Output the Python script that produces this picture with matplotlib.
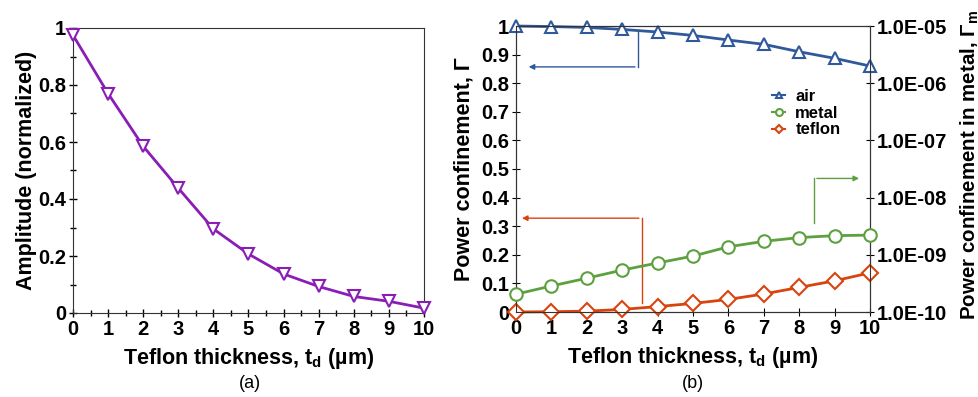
import math
import matplotlib
matplotlib.use("Agg")
import matplotlib.pyplot as plt
from matplotlib.ticker import FixedLocator, MultipleLocator, FuncFormatter
from matplotlib.lines import Line2D

plt.rcParams['font.family'] = ['Liberation Sans', 'DejaVu Sans']
plt.rcParams['font.weight'] = 'bold'
plt.rcParams['mathtext.fontset'] = 'custom'
plt.rcParams['mathtext.rm'] = 'Liberation Sans:bold'
plt.rcParams['mathtext.bf'] = 'Liberation Sans:bold'
plt.rcParams['mathtext.default'] = 'bf'

thickness = [0, 1, 2, 3, 4, 5, 6, 7, 8, 9, 10]
amplitude = [0.975, 0.77, 0.585, 0.438, 0.295, 0.207, 0.137, 0.093, 0.058, 0.041, 0.017]
air = [1.0, 0.998, 0.995, 0.988, 0.979, 0.967, 0.951, 0.936, 0.910, 0.887, 0.860]
teflon = [0.0, 0.001, 0.003, 0.009, 0.019, 0.030, 0.044, 0.063, 0.086, 0.109, 0.137]
metal = [2.05e-10, 2.85e-10, 3.9e-10, 5.4e-10, 7.2e-10, 9.5e-10, 1.38e-9, 1.72e-9, 2.0e-9, 2.16e-9, 2.21e-9]

purple = '#8a1db5'
blue = '#30599c'
green = '#5ca03f'
orange = '#d9440e'

fig = plt.figure(figsize=(9.79, 3.97), dpi=100)
W, H = 979, 397

def ax_rect(x0, x1, ytop, ybot):
    return [x0 / W, 1 - ybot / H, (x1 - x0) / W, (ybot - ytop) / H]

lab_fs = 15.5
tick_fs = 14.5

# Panel (a)
axa = fig.add_axes(ax_rect(73, 424, 28, 313))
axa.plot(thickness, amplitude, color=purple, lw=2, marker='v', ms=9,
         mfc='white', mec=purple, mew=1.5, clip_on=False, zorder=3)
axa.set_xlim(0, 10)
axa.set_ylim(0, 1)
axa.xaxis.set_major_locator(MultipleLocator(1))
axa.xaxis.set_minor_locator(MultipleLocator(0.5))
axa.yaxis.set_major_locator(MultipleLocator(0.2))
axa.yaxis.set_minor_locator(MultipleLocator(0.1))
axa.yaxis.set_major_formatter(FuncFormatter(lambda v, p: f"{v:g}"))
axa.tick_params(which='both', direction='inout', labelsize=tick_fs, width=1, pad=2)
axa.tick_params(which='major', length=6)
axa.tick_params(which='minor', length=4)
for s in axa.spines.values():
    s.set_color('#333333')
axa.set_xlabel(r"Teflon thickness, t$_\mathregular{d}$ (µm)", fontsize=lab_fs, fontweight='bold', labelpad=5)
axa.set_ylabel("Amplitude (normalized)", fontsize=lab_fs, fontweight='bold', labelpad=1)
fig.text(250 / W, 1 - 383 / H, "(a)", ha='center', va='center', fontsize=13, fontweight='normal')

# Panel (b)
axb = fig.add_axes(ax_rect(516, 870, 26, 312))
axb.plot(thickness, air, color=blue, lw=2, marker='^', ms=9, mfc='white',
         mec=blue, mew=1.5, clip_on=False, zorder=3, label='air')
axb.plot(thickness, teflon, color=orange, lw=2, marker='D', ms=8, mfc='white',
         mec=orange, mew=1.5, clip_on=False, zorder=3, label='teflon')
axb.set_xlim(0, 10)
axb.set_ylim(0, 1)
axb.xaxis.set_major_locator(MultipleLocator(1))
axb.yaxis.set_major_locator(MultipleLocator(0.1))
axb.yaxis.set_major_formatter(FuncFormatter(lambda v, p: f"{v:g}"))
axb.tick_params(which='both', direction='inout', labelsize=tick_fs, length=6, pad=2)
axb.set_xlabel(r"Teflon thickness, t$_\mathregular{d}$ (µm)", fontsize=lab_fs, fontweight='bold', labelpad=5)
axb.set_ylabel("Power confinement, Γ", fontsize=lab_fs, fontweight='bold', labelpad=5)

axr = axb.twinx()
axr.plot(thickness, metal, color=green, lw=2, marker='o', ms=9, mfc='white',
         mec=green, mew=1.5, clip_on=False, zorder=3, label='metal')
axr.set_yscale('log')
axr.set_ylim(1e-10, 1e-5)
axr.yaxis.set_major_locator(FixedLocator([1e-10, 1e-9, 1e-8, 1e-7, 1e-6, 1e-5]))
axr.yaxis.set_minor_locator(FixedLocator([]))
axr.yaxis.set_major_formatter(FuncFormatter(lambda v, p: "1.0E-%02d" % round(-math.log10(v))))
axr.tick_params(which='both', direction='inout', labelsize=tick_fs, length=6, pad=2)
axr.set_ylabel(r"Power confinement in metal, Γ$_\mathregular{m}$", fontsize=14.8,
               fontweight='bold', labelpad=8)
axr.yaxis.label.set_y(0.515)
for a in (axb, axr):
    for s in a.spines.values():
        s.set_color('#333333')

# Arrows (in data coords of left axis)
axb.plot([3.44, 3.44], [0.985, 0.857], color=blue, lw=1)
axb.annotate('', xy=(0.28, 0.857), xytext=(3.44, 0.857),
             arrowprops=dict(arrowstyle='-|>', color=blue, lw=1, mutation_scale=8))
axb.plot([3.55, 3.55], [0.033, 0.328], color=orange, lw=1)
axb.annotate('', xy=(0.09, 0.328), xytext=(3.55, 0.328),
             arrowprops=dict(arrowstyle='-|>', color=orange, lw=1, mutation_scale=8))
axb.plot([8.42, 8.42], [0.31, 0.467], color=green, lw=1)
axb.annotate('', xy=(9.77, 0.467), xytext=(8.42, 0.467),
             arrowprops=dict(arrowstyle='-|>', color=green, lw=1, mutation_scale=8))

# Legend
series_lines = [('air', blue, '^'), ('metal', green, 'o'), ('teflon', orange, 'D')]
lh = [Line2D([], [], color=c, lw=1.5, marker=m, ms=5 if m != 'D' else 4.5,
             mfc='white', mec=c, mew=1.5) for _, c, m in series_lines]
labels = [n for n, _, _ in series_lines]
leg = axr.legend(lh, labels, loc='upper left', bbox_to_anchor=(0.69, 0.82),
                 frameon=False, fontsize=12, handlelength=0.8, handletextpad=0.6,
                 labelspacing=0.1, borderpad=0.2)
for t in leg.get_texts():
    t.set_fontweight('bold')

fig.text(693 / W, 1 - 383 / H, "(b)", ha='center', va='center', fontsize=13, fontweight='normal')

fig.savefig("out.png", dpi=100)
